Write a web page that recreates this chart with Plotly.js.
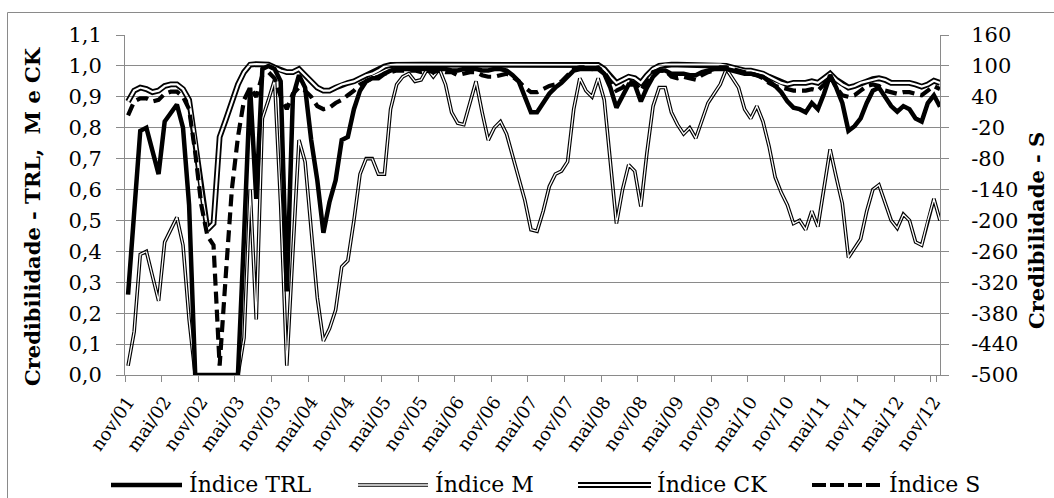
<!DOCTYPE html>
<html><head><meta charset="utf-8">
<script src="https://cdn.plot.ly/plotly-3.0.1.min.js"></script>
<style>html,body{margin:0;padding:0;background:#fff;}#chart{width:1054px;height:498px;}</style>
</head><body><div id="chart"></div>
<script>
// Categories: monthly, nov/01 .. dez/12
const monthNames = ['jan','fev','mar','abr','mai','jun','jul','ago','set','out','nov','dez'];
const startMonth = 10, startYear = 1, nMonths = 134;
const months = [];
for (let k = 0; k < nMonths; k++) {
  const m = (startMonth + k) % 12, y = startYear + Math.floor((startMonth + k) / 12);
  months.push(monthNames[m] + '/' + String(y).padStart(2, '0'));
}
const xTickLabels = months.filter((m, i) => i % 6 === 0);

// Series (left axis 0..1.1)
const trl = [0.26,0.53,0.79,0.80,0.73,0.65,0.82,0.85,0.875,0.80,
0.55,0,0,0,0,0,0,0,0,0.45,
0.93,0.57,0.99,1.0,0.99,0.95,0.27,0.90,0.97,0.93,
0.76,0.63,0.46,0.56,0.63,0.76,0.77,0.86,0.92,0.95,
0.96,0.96,0.975,0.985,0.99,0.99,0.99,0.99,0.99,0.99,
0.99,0.99,0.99,0.985,0.985,0.99,0.99,0.99,0.985,0.985,
0.99,0.99,0.985,0.97,0.95,0.90,0.85,0.85,0.88,0.91,
0.93,0.945,0.965,0.985,0.99,0.99,0.99,0.99,0.975,0.93,
0.865,0.90,0.94,0.94,0.885,0.93,0.965,0.985,0.985,0.975,
0.975,0.975,0.97,0.97,0.98,0.985,0.99,0.99,0.99,0.985,
0.98,0.975,0.975,0.97,0.965,0.95,0.935,0.915,0.885,0.865,
0.86,0.85,0.88,0.86,0.91,0.97,0.93,0.88,0.79,0.805,
0.83,0.88,0.92,0.93,0.90,0.87,0.852,0.87,0.86,0.83,
0.82,0.88,0.905,0.868];

const idxM = [0.03,0.14,0.39,0.40,0.32,0.24,0.43,0.47,0.51,0.42,
0.18,0,0,0,0,0,0,0,0,0.12,
0.60,0.18,0.83,0.89,0.955,0.55,0.03,0.40,0.76,0.69,
0.47,0.25,0.11,0.15,0.21,0.35,0.37,0.50,0.65,0.70,
0.70,0.65,0.65,0.86,0.94,0.965,0.975,0.95,0.955,0.99,
0.965,0.99,0.94,0.85,0.815,0.81,0.88,0.95,0.85,0.76,
0.80,0.82,0.78,0.71,0.64,0.565,0.47,0.465,0.53,0.61,
0.65,0.66,0.69,0.86,0.96,0.92,0.90,0.96,0.89,0.70,
0.49,0.60,0.68,0.66,0.545,0.72,0.87,0.93,0.93,0.85,
0.81,0.78,0.80,0.766,0.82,0.88,0.91,0.94,0.99,0.96,
0.93,0.86,0.83,0.87,0.82,0.74,0.64,0.59,0.55,0.49,
0.50,0.47,0.53,0.48,0.60,0.73,0.64,0.555,0.38,0.41,
0.44,0.53,0.60,0.615,0.56,0.50,0.475,0.52,0.50,0.43,
0.42,0.50,0.57,0.50];

const ck = [0.885,0.92,0.93,0.925,0.915,0.92,0.935,0.94,0.94,0.925,
0.89,0.76,0.60,0.47,0.49,0.77,0.825,0.885,0.94,0.98,
1.004,1.006,1.006,1.004,0.995,0.985,0.98,0.98,0.99,0.97,
0.95,0.93,0.92,0.92,0.93,0.94,0.945,0.95,0.96,0.97,
0.975,0.985,0.998,1.003,1.004,1.004,1.004,1.004,1.004,1.004,
1.004,1.004,1.004,1.004,1.004,1.004,1.004,1.004,1.004,1.004,
1.004,1.004,1.004,1.004,1.004,1.004,1.004,1.004,1.004,1.004,
1.004,1.004,1.004,1.004,1.004,1.004,1.004,1.003,0.99,0.965,
0.945,0.955,0.965,0.96,0.945,0.97,0.99,1.0,1.004,1.004,
1.004,1.004,1.004,1.004,1.004,1.004,1.004,1.004,1.0,0.995,
0.99,0.985,0.985,0.98,0.975,0.965,0.955,0.945,0.94,0.945,
0.945,0.945,0.95,0.945,0.96,0.975,0.955,0.94,0.93,0.935,
0.945,0.95,0.957,0.96,0.955,0.945,0.945,0.945,0.945,0.94,
0.933,0.94,0.952,0.945];

// Series S (right axis -500..160)
const idxS = [4,31,37,37,31,34,46,50,50,40,
16,-68,-170,-230,-248,-482,-308,-140,-38,34,
58,40,82,88,76,40,16,46,58,52,
40,22,16,19,28,34,43,52,64,70,
76,79,85,88,91,91,91,91,88,91,
88,91,88,88,82,85,88,88,82,79,
79,82,85,79,70,58,49,49,55,61,
64,70,82,94,97,97,94,97,88,70,
52,58,70,67,52,70,88,91,91,79,
76,79,76,73,82,88,91,97,97,94,
91,88,85,82,76,67,61,58,55,52,
52,52,55,52,64,82,58,43,40,43,
52,61,64,61,52,49,46,49,49,46,
43,52,61,55];

const leftTicks = [0,0.1,0.2,0.3,0.4,0.5,0.6,0.7,0.8,0.9,1.0,1.1];
const leftTickText = ['0,0','0,1','0,2','0,3','0,4','0,5','0,6','0,7','0,8','0,9','1,0','1,1'];
const rightTicks = [-500,-440,-380,-320,-260,-200,-140,-80,-20,40,100,160];
const rightTickText = ['-500','-440','-380','-320','-260','-200','-140','-80','-20','40','100','160'];

const seriesNames = ['Índice TRL','Índice M','Índice CK','Índice S'];
const leftTitle = 'Credibilidade - TRL,\u00a0 M e CK';
const rightTitle = 'Credibilidade - S';

const FONT = 'DejaVu Serif';
const GRID = '#8a8a8a';
const M_OUT = 3.6, M_IN = 1.3, CK_OUT = 5.8, CK_IN = 2.2;

const traces = [
  {x: months, y: trl, name: seriesNames[0], mode: 'lines', line: {color: '#000', width: 4.5}, showlegend: false},
  {x: months, y: idxM, name: seriesNames[1], mode: 'lines', line: {color: '#000', width: M_OUT}, showlegend: false},
  {x: months, y: idxM, name: seriesNames[1], mode: 'lines', line: {color: '#fff', width: M_IN}, showlegend: false, hoverinfo: 'skip'},
  {x: months, y: ck, name: seriesNames[2], mode: 'lines', line: {color: '#000', width: CK_OUT}, showlegend: false},
  {x: months, y: ck, name: seriesNames[2], mode: 'lines', line: {color: '#fff', width: CK_IN}, showlegend: false, hoverinfo: 'skip'},
  {x: months, y: idxS, name: seriesNames[3], yaxis: 'y2', mode: 'lines', line: {color: '#000', width: 4.2, dash: '12px,6px'}, showlegend: false}
];

// Plot area in pixels
const PL = 125, PR = 940, PT = 35, PB = 375;
const px = v => (v - PL) / (PR - PL);
const py = v => (PB - v) / (PB - PT);

// Manual legend (double-line samples need two strokes)
const legendY = 485;
const legendItems = [
  {name: seriesNames[0], x0: 111, x1: 182, tx: 187, strokes: [{c: '#000', w: 4.5}]},
  {name: seriesNames[1], x0: 358, x1: 428, tx: 433, strokes: [{c: '#000', w: M_OUT}, {c: '#fff', w: M_IN}]},
  {name: seriesNames[2], x0: 578, x1: 651, tx: 655, strokes: [{c: '#000', w: CK_OUT}, {c: '#fff', w: CK_IN}]},
  {name: seriesNames[3], x0: 812, x1: 883, tx: 887, strokes: [{c: '#000', w: 4.2, dash: '14px,4px'}]}
];
const shapes = [
  {type: 'rect', xref: 'paper', yref: 'paper', x0: px(7.5), x1: px(1056), y0: py(500), y1: py(12.5),
   line: {color: '#8a8a8a', width: 1}, fillcolor: 'rgba(0,0,0,0)', layer: 'below'}
];
const annotations = [];
legendItems.forEach(it => {
  it.strokes.forEach(s => shapes.push({type: 'line', xref: 'paper', yref: 'paper',
    x0: px(it.x0), x1: px(it.x1), y0: py(legendY), y1: py(legendY),
    line: {color: s.c, width: s.w, dash: s.dash || 'solid'}}));
  annotations.push({xref: 'paper', yref: 'paper', x: px(it.tx), y: py(legendY - 1), xanchor: 'left', yanchor: 'middle',
    text: it.name, showarrow: false, font: {family: FONT, size: 22, color: '#000'}});
});
// Axis titles
annotations.push({xref: 'paper', yref: 'paper', x: px(32), y: py(217), xanchor: 'center', yanchor: 'middle',
  textangle: -90, text: '<b>' + leftTitle + '</b>', showarrow: false, font: {family: FONT, size: 21, color: '#000'}});
annotations.push({xref: 'paper', yref: 'paper', x: px(1037), y: py(231), xanchor: 'center', yanchor: 'middle',
  textangle: -90, text: '<b>' + rightTitle + '</b>', showarrow: false, font: {family: FONT, size: 21, color: '#000'}});

const layout = {
  width: 1054, height: 498,
  margin: {l: PL, r: 1054 - PR, t: PT, b: 498 - PB, pad: 0},
  paper_bgcolor: '#fff', plot_bgcolor: '#fff',
  font: {family: FONT, color: '#000'},
  showlegend: false,
  xaxis: {
    type: 'category', range: [-0.5, nMonths - 1], tickvals: xTickLabels, ticktext: xTickLabels,
    tickangle: -55, tickfont: {family: FONT, size: 18, color: '#000'}, ticklabelstandoff: 8,
    ticks: 'outside', ticklen: 6, tickcolor: GRID, tickwidth: 1, tickson: 'boundaries',
    showline: true, linecolor: GRID, linewidth: 1, showgrid: false, zeroline: false, fixedrange: true
  },
  yaxis: {
    range: [0, 1.1], tickvals: leftTicks, ticktext: leftTickText,
    tickfont: {family: FONT, size: 21, color: '#000'},
    ticks: 'outside', ticklen: 8, tickcolor: GRID, tickwidth: 1, ticklabelstandoff: 10,
    showgrid: true, gridcolor: GRID, gridwidth: 1, zeroline: false,
    showline: true, linecolor: GRID, linewidth: 1, fixedrange: true
  },
  yaxis2: {
    overlaying: 'y', side: 'right', range: [-500, 160], tickvals: rightTicks, ticktext: rightTickText,
    tickfont: {family: FONT, size: 21, color: '#000'},
    ticks: 'outside', ticklen: 8, tickcolor: GRID, tickwidth: 1, ticklabelstandoff: 18,
    showgrid: false, zeroline: false, showline: true, linecolor: GRID, linewidth: 1, fixedrange: true
  },
  shapes: shapes,
  annotations: annotations
};

// Excel-style compound ("double") lines have a transparent gap: cut the inner stroke out of the outer one.
function cutGap(gd) {
  const NS = 'http://www.w3.org/2000/svg';
  const svg = gd.querySelector('svg.main-svg');
  let defs = svg.querySelector('defs');
  if (!defs) { defs = document.createElementNS(NS, 'defs'); svg.insertBefore(defs, svg.firstChild); }
  const lines = Array.from(gd.querySelectorAll('.cartesianlayer .subplot.xy .scatterlayer .trace path.js-line'));
  const pairs = [[1, 2, M_IN, 'gapM'], [3, 4, CK_IN, 'gapCK']];
  pairs.forEach(([o, n, w, id]) => {
    const outer = lines[o], inner = lines[n];
    if (!outer || !inner) return;
    const mask = document.createElementNS(NS, 'mask');
    mask.setAttribute('id', id);
    mask.setAttribute('maskUnits', 'userSpaceOnUse');
    ['x', 'y'].forEach(a => mask.setAttribute(a, '-3000'));
    ['width', 'height'].forEach(a => mask.setAttribute(a, '8000'));
    const r = document.createElementNS(NS, 'rect');
    r.setAttribute('x', '-3000'); r.setAttribute('y', '-3000');
    r.setAttribute('width', '8000'); r.setAttribute('height', '8000'); r.setAttribute('fill', '#fff');
    const p = document.createElementNS(NS, 'path');
    p.setAttribute('d', inner.getAttribute('d'));
    p.setAttribute('fill', 'none'); p.setAttribute('stroke', '#000'); p.setAttribute('stroke-width', String(w));
    mask.appendChild(r); mask.appendChild(p); defs.appendChild(mask);
    outer.setAttribute('mask', 'url(#' + id + ')');
    inner.style.display = 'none';
  });
}

Plotly.newPlot('chart', traces, layout, {displayModeBar: false, staticPlot: true}).then(cutGap);
</script></body></html>
